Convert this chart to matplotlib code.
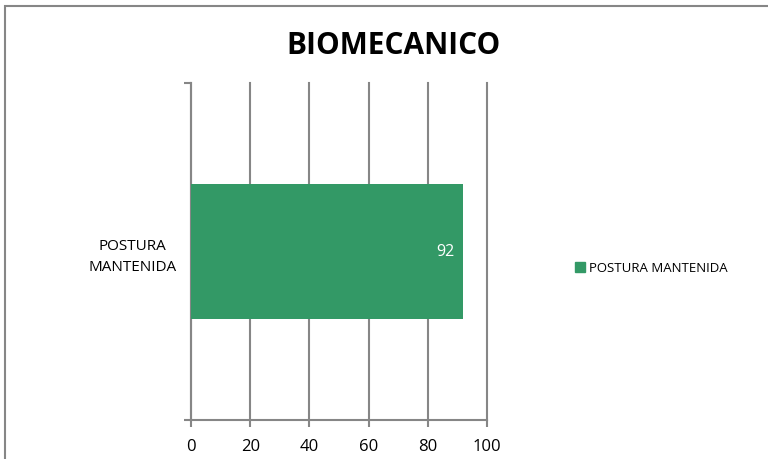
import matplotlib.pyplot as plt
from matplotlib.patches import Rectangle, Patch

plt.rcParams['font.family'] = ['Open Sans', 'DejaVu Sans']

categorias = ['POSTURA\nMANTENIDA']
valores = [92]
serie = 'POSTURA MANTENIDA'
ticks_x = [0, 20, 40, 60, 80, 100]

fig = plt.figure(figsize=(7.68, 4.59), dpi=100)
ax = fig.add_axes([191 / 768, 39 / 459, 296 / 768, 337 / 459])

gris = '#868686'
verde = '#339966'

bars = ax.barh(range(len(categorias)), valores, height=0.4, color=verde, zorder=3)
for b, v in zip(bars, valores):
    ax.text(b.get_width() - 3, b.get_y() + b.get_height() / 2, str(v),
            ha='right', va='center', color='white', fontsize=11.5, zorder=4)

ax.set_xlim(0, 100)
ax.set_ylim(-0.5, 0.5)
ax.set_xticks(ticks_x)
for t in ticks_x:
    ax.axvline(t, color=gris, linewidth=1.5, zorder=0, clip_on=False)
ax.tick_params(axis='x', length=5, width=1.5, color=gris, labelsize=12, pad=9)

ax.set_yticks(range(len(categorias)))
ax.set_yticklabels(categorias, fontsize=11, ha='center', linespacing=1.6)
ax.tick_params(axis='y', length=0, pad=42)
ax.set_yticks([-0.5, 0.5], minor=True)
ax.tick_params(axis='y', which='minor', length=5, width=1.5, color=gris)

for s in ['top', 'right']:
    ax.spines[s].set_visible(False)
for s in ['left', 'bottom']:
    ax.spines[s].set_color(gris)
    ax.spines[s].set_linewidth(1.5)

fig.text(0.512, 0.9, 'BIOMECANICO', ha='center', va='center',
         fontsize=21.5, fontweight='bold')

fig.legend(handles=[Patch(color=verde, label=serie)], loc='center left',
           bbox_to_anchor=(563 / 768, 1 - 268 / 459), frameon=False,
           fontsize=9.5, handlelength=0.75, handleheight=0.75, handletextpad=0.3)

fig.patches.append(Rectangle((5 / 768, -0.2), 1.0, 1.2 - 6 / 459, transform=fig.transFigure,
                             fill=False, edgecolor=gris, linewidth=1.5))

fig.savefig('out.png', dpi=100)
